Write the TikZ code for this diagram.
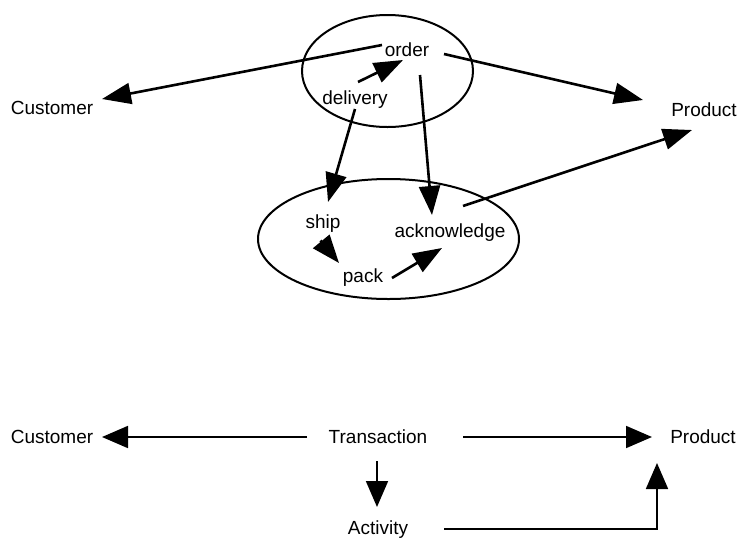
\documentclass[tikz,border=0pt]{standalone}
\usepackage{fontspec}
\setmainfont{Liberation Sans}
\usetikzlibrary{arrows.meta,shapes.geometric}
\begin{document}
\begin{tikzpicture}[x=1pt,y=-1pt,
  lbl/.style={inner sep=0pt,font=\fontsize{19}{22}\selectfont,text height=13.5pt,text depth=0pt},
  group/.style={draw,ellipse,line width=2pt,inner sep=0pt},
  heavy/.style={line width=2.6pt,-{Triangle[length=29pt,width=21pt]}},
  light/.style={line width=1.8pt,-{Triangle[length=26pt,width=22pt]}}]
\useasboundingbox (0,0) rectangle (740,539);

% upper diagram: grouped activities inside ellipses
\node[group,minimum width=171pt,minimum height=112pt] (topgroup) at (387.5,71) {};
\node[group,minimum width=261pt,minimum height=120pt] (lowgroup) at (388.5,239) {};

\node[lbl] (customer) at (52,108) {Customer};
\node[lbl] (product) at (704,110) {Product};
\node[lbl] (order) at (407,50) {order};
\node[lbl] (delivery) at (355,98) {delivery};
\node[lbl] (ship) at (323,222) {ship};
\node[lbl] (pack) at (363,276) {pack};
\node[lbl] (ack) at (450,231) {acknowledge};

\draw[heavy] ([shift={(-25,-5)}]order.center) -- ([shift={(50,-9)}]customer.center);
\draw[heavy] ([shift={(37,4)}]order.center) -- ([shift={(-61,-10)}]product.center);
\draw[heavy] ([shift={(13,25)}]order.center) -- ([shift={(-18,-16)}]ack.center);
\draw[heavy] ([shift={(3,-16)}]delivery.center) -- ([shift={(-4,10)}]order.center);
\draw[heavy] ([shift={(0,11)}]delivery.center) -- ([shift={(5,-20)}]ship.center);
\draw[line width=2.6pt,-{Triangle[length=28pt,width=21pt]}] ([shift={(-2.5,18.5)}]ship.center) -- ([shift={(-24,-13)}]pack.center);
\draw[heavy] ([shift={(29,2)}]pack.center) -- ([shift={(-8,17)}]ack.center);
\draw[heavy] ([shift={(13,-25)}]ack.center) -- ([shift={(-12,20)}]product.center);

% lower diagram: generic transaction pattern
\node[lbl] (customer2) at (52,437) {Customer};
\node[lbl] (transaction) at (378,437) {Transaction};
\node[lbl] (product2) at (703,437) {Product};
\node[lbl] (activity) at (378,528) {Activity};

\draw[light] ([shift={(-71,0)}]transaction.center) -- ([shift={(50,0)}]customer2.center);
\draw[light] ([shift={(85,0)}]transaction.center) -- ([shift={(-51,0)}]product2.center);
\draw[light] ([shift={(-1,24)}]transaction.center) -- ([shift={(-1,-21)}]activity.center);
\draw[light] ([shift={(66,1)}]activity.center) -| ([shift={(-46,26)}]product2.center);
\end{tikzpicture}
\end{document}
